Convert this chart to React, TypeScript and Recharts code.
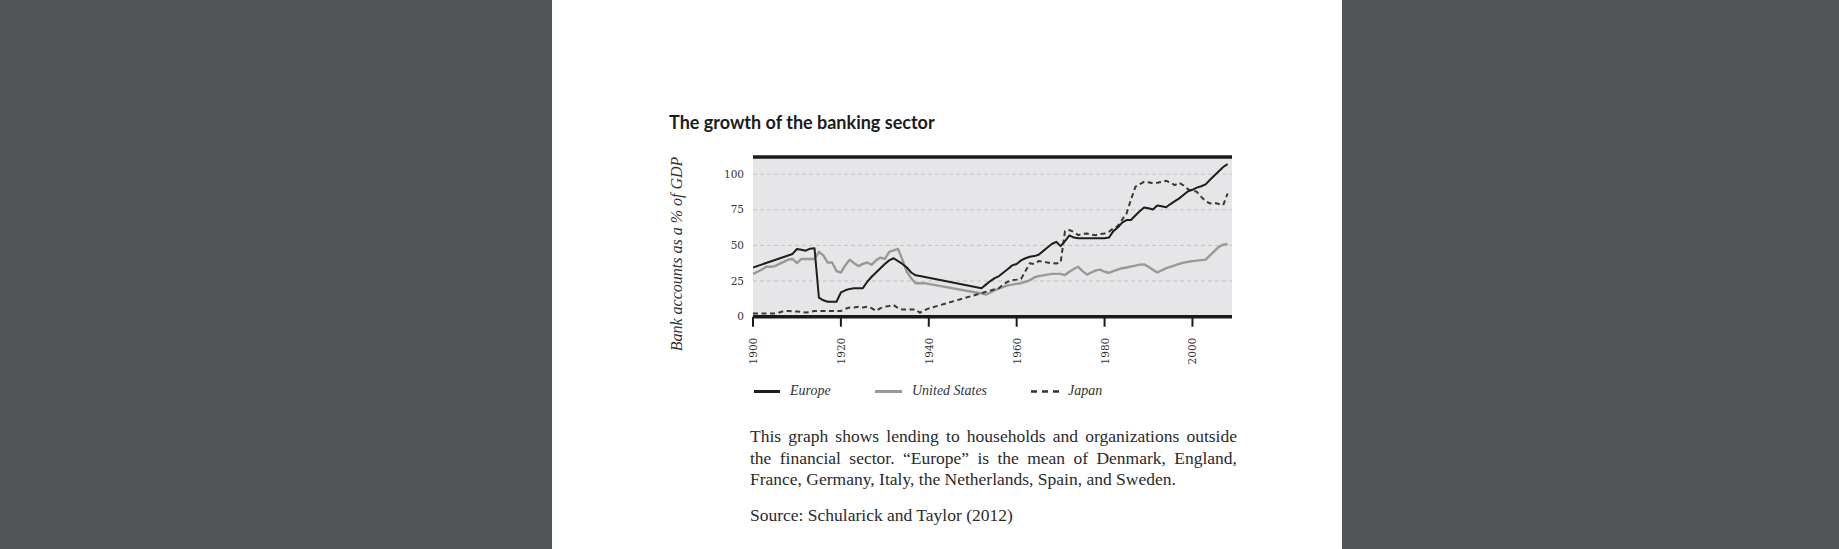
import { LineChart, Line, XAxis, YAxis, CartesianGrid, ReferenceLine } from "recharts";

// Bank lending to households/organizations, % of GDP
const europeYears = [
  1900, 1909, 1910, 1911, 1912, 1913, 1914, 1915, 1916, 1917, 1918, 1919, 1920, 1921, 1922, 1923, 1924, 1925,
  1926, 1927, 1928, 1929, 1930, 1931, 1932, 1933, 1934, 1935, 1936, 1937, 1938, 1952, 1953, 1954, 1955, 1956,
  1957, 1958, 1959, 1960, 1961, 1962, 1963, 1964, 1965, 1966, 1967, 1968, 1969, 1970, 1971, 1972, 1973, 1974,
  1980, 1981, 1982, 1983, 1984, 1985, 1986, 1987, 1988, 1989, 1990, 1991, 1992, 1993, 1994, 1995, 1996, 1997,
  1998, 1999, 2000, 2001, 2002, 2003, 2004, 2005, 2006, 2007, 2008,
];
const europeValues = [
  34.5, 44, 47.5, 47, 46.3, 47.7, 48, 13.3, 11.5, 10.5, 10.5, 10.5, 17, 18.5, 19.5, 20, 20, 20,
  24.5, 28, 31, 34, 37, 39.5, 41, 39, 37, 34.5, 31, 29, 28.5, 20, 22.5, 25, 27, 28.5,
  31, 33.5, 36, 37, 39.5, 41, 42, 42.5, 43.5, 46, 48.5, 51, 52.5, 49.5, 53, 57, 55.5, 55,
  55, 55.5, 60, 62.5, 66, 67.8, 67.8, 71, 74, 76.6, 76, 75.2, 78, 77.5, 76.8, 79, 81, 83,
  85.5, 88, 89, 90.5, 91.5, 92.8, 96, 99, 102, 105, 107,
];

const usYears = [
  1900, 1901, 1902, 1903, 1904, 1905, 1906, 1907, 1908, 1909, 1910, 1911, 1912, 1913, 1914, 1915, 1916, 1917,
  1918, 1919, 1920, 1921, 1922, 1923, 1924, 1925, 1926, 1927, 1928, 1929, 1930, 1931, 1932, 1933, 1934, 1935,
  1936, 1937, 1938, 1939, 1952, 1953, 1954, 1955, 1956, 1957, 1958, 1959, 1960, 1961, 1962, 1963, 1964, 1965,
  1966, 1967, 1968, 1969, 1970, 1971, 1972, 1973, 1974, 1975, 1976, 1977, 1978, 1979, 1980, 1981, 1982, 1983,
  1984, 1985, 1986, 1987, 1988, 1989, 1990, 1991, 1992, 1993, 1994, 1995, 1996, 1997, 1998, 1999, 2000, 2001,
  2002, 2003, 2004, 2005, 2006, 2007, 2008,
];
const usValues = [
  30, 31.5, 33, 35, 35, 35.5, 37, 38.5, 40, 40.5, 37.5, 40.5, 40.5, 40.5, 40.5, 45.5, 43, 38,
  38, 32, 31, 36, 40, 37.5, 35.5, 37, 38, 36.5, 39.5, 41.5, 40.5, 45.5, 46.5, 47.5, 40, 31.5,
  27, 23.5, 23.5, 23.5, 16.3, 15.5, 17, 18.5, 19.9, 21, 22, 22.5, 23, 23.5, 24.5, 25.5, 27.5, 28.5,
  29, 29.5, 30, 30, 30, 29.2, 31.5, 33.5, 35, 32, 29.5, 31, 32.5, 33, 31.5, 30.8, 32, 33,
  34, 34.5, 35.2, 35.8, 36.5, 36.7, 35, 33, 31, 32.5, 34, 35, 36, 37, 37.9, 38.5, 39, 39.3,
  39.7, 40, 43, 46, 49, 50.5, 51,
];

const japanYears = [
  1900, 1905, 1906, 1907, 1908, 1909, 1910, 1911, 1912, 1913, 1914, 1919, 1920, 1921, 1922, 1923, 1924, 1925,
  1926, 1927, 1928, 1929, 1930, 1931, 1932, 1933, 1934, 1935, 1936, 1937, 1938, 1939, 1940, 1955, 1956, 1957,
  1958, 1959, 1960, 1961, 1962, 1963, 1964, 1965, 1966, 1967, 1968, 1969, 1970, 1971, 1972, 1973, 1974, 1975,
  1976, 1977, 1978, 1979, 1980, 1981, 1982, 1983, 1984, 1985, 1986, 1987, 1988, 1989, 1990, 1991, 1992, 1993,
  1994, 1995, 1996, 1997, 1998, 1999, 2000, 2001, 2002, 2003, 2004, 2005, 2006, 2007, 2008,
];
const japanValues = [
  2.3, 2.3, 3, 4, 4, 3.7, 3.7, 3.3, 3, 3.3, 4, 4, 4, 5.5, 6.5, 6.5, 7, 6.5,
  7, 6, 4, 6, 7, 7.5, 8.2, 6, 5, 5, 5.1, 5, 2.8, 4.5, 5.8, 19.2, 20, 23,
  24.5, 25.7, 26, 26.5, 32, 37.4, 37, 39, 38.5, 38, 37.5, 37.4, 38, 60, 60.7, 59.5, 57.2, 58,
  58.4, 57.5, 57.2, 58, 58.4, 59.6, 62, 63.5, 68, 72.4, 82, 91, 93, 94.6, 94.3, 93.5, 94, 94.6,
  95.3, 94, 92.3, 93.9, 92, 89.3, 88.5, 87.6, 84, 81, 79.4, 79.9, 79, 78.3, 86.4,
];

const xTicks = [1900, 1920, 1940, 1960, 1980, 2000];
const yTicks = [0, 25, 50, 75, 100];

const toRows = (years: number[], values: number[]) => years.map((year, i) => ({ year, value: values[i] }));

const serif = "'Liberation Serif', serif";
const tickFont = "'DejaVu Serif', serif";

function XTick({ x, y, payload }: any) {
  return (
    <g transform={`translate(${x},${y})`}>
      <text transform="rotate(-90)" x={-9} dy={4} textAnchor="end" fill="#333" fontSize={10.5} fontFamily={tickFont}>
        {payload.value}
      </text>
    </g>
  );
}

export default function App() {
  const europe = toRows(europeYears, europeValues);
  const us = toRows(usYears, usValues);
  const japan = toRows(japanYears, japanValues);

  return (
    <div style={{ position: "absolute", left: 0, top: 0, width: 1839, height: 549, background: "#525659", overflow: "hidden" }}>
      <div style={{ position: "absolute", left: 552, top: 0, width: 790, height: 549, background: "#fff" }} />

      <div style={{ position: "absolute", left: 669, top: 111, fontFamily: "Lato, sans-serif", fontWeight: 700, fontSize: 18, color: "#1c1c1c", whiteSpace: "nowrap" }}>
        The growth of the banking sector
      </div>

      <div style={{ position: "absolute", left: 677, top: 254, transform: "translate(-50%, -50%) rotate(-90deg)", fontFamily: serif, fontStyle: "italic", fontSize: 16, color: "#333", whiteSpace: "nowrap" }}>
        Bank accounts as a % of GDP
      </div>

      <div style={{ position: "absolute", left: 660, top: 140 }}>
        <LineChart width={600} height={240} margin={{ top: 17, right: 28, bottom: 0, left: 0 }}>
          <CartesianGrid vertical={false} fill="#e6e6e8" stroke="#c4c4c6" strokeDasharray="4 3" />
          <XAxis
            dataKey="year"
            type="number"
            domain={[1900, 2009]}
            ticks={xTicks}
            allowDataOverflow
            height={63.3}
            tickSize={10}
            axisLine={{ stroke: "#1a1a1a", strokeWidth: 3.5 }}
            tickLine={{ stroke: "#1a1a1a", strokeWidth: 2 }}
            tick={<XTick />}
            interval={0}
          />
          <YAxis
            type="number"
            domain={[0, 112]}
            ticks={yTicks}
            allowDataOverflow
            width={93}
            axisLine={false}
            tickLine={false}
            tickSize={0}
            tickMargin={9}
            tick={{ fill: "#333", fontSize: 10.5, fontFamily: tickFont }}
          />
          <ReferenceLine y={112} stroke="#1a1a1a" strokeWidth={3.5} />
          <Line data={us} dataKey="value" type="linear" stroke="#999" strokeWidth={2.4} dot={false} isAnimationActive={false} strokeLinejoin="round" />
          <Line data={japan} dataKey="value" type="linear" stroke="#383838" strokeWidth={2} strokeDasharray="5 3.5" dot={false} isAnimationActive={false} />
          <Line data={europe} dataKey="value" type="linear" stroke="#1e1e1e" strokeWidth={2} dot={false} isAnimationActive={false} strokeLinejoin="round" />
        </LineChart>
      </div>

      {/* legend */}
      <div style={{ position: "absolute", left: 754, top: 390, width: 26, height: 3, background: "#1e1e1e" }} />
      <div style={{ position: "absolute", left: 790, top: 383, fontFamily: serif, fontStyle: "italic", fontSize: 14, color: "#333" }}>Europe</div>
      <div style={{ position: "absolute", left: 875, top: 390, width: 27, height: 3, background: "#999" }} />
      <div style={{ position: "absolute", left: 912, top: 383, fontFamily: serif, fontStyle: "italic", fontSize: 14, color: "#333" }}>United States</div>
      <svg style={{ position: "absolute", left: 1031, top: 389 }} width={28} height={5}>
        <line x1={0} y1={2.5} x2={28} y2={2.5} stroke="#333" strokeWidth={2.5} strokeDasharray="6 5" />
      </svg>
      <div style={{ position: "absolute", left: 1068, top: 383, fontFamily: serif, fontStyle: "italic", fontSize: 14, color: "#333" }}>Japan</div>

      {/* caption */}
      <div style={{ position: "absolute", left: 750, top: 426, width: 487, fontFamily: serif, fontSize: 17.5, lineHeight: "21.5px", color: "#2a2a2a" }}>
        <div style={{ textAlign: "justify", textAlignLast: "justify", whiteSpace: "nowrap" }}>This graph shows lending to households and organizations outside</div>
        <div style={{ textAlign: "justify", textAlignLast: "justify" }}>the financial sector. “Europe” is the mean of Denmark, England,</div>
        <div style={{ whiteSpace: "nowrap" }}>France, Germany, Italy, the Netherlands, Spain, and Sweden.</div>
      </div>
      <div style={{ position: "absolute", left: 750, top: 505, fontFamily: serif, fontSize: 17.5, lineHeight: "21.5px", color: "#2a2a2a" }}>
        Source: Schularick and Taylor (2012)
      </div>
    </div>
  );
}
